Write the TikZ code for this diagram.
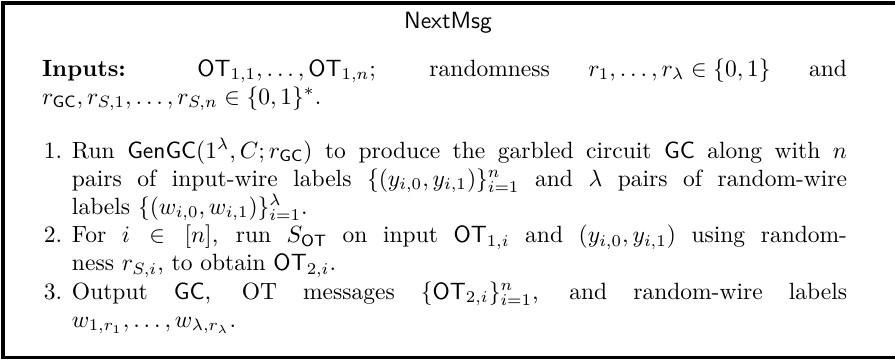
\documentclass[tikz,border=0pt]{standalone}
\usepackage{amsmath,amssymb}
\usetikzlibrary{positioning}
\tikzset{
	x=0.4255pt, y=-0.4255pt,
	frame/.style = {line width=1.3pt},
	title/.style = {anchor=base, inner sep=0pt, font=\sffamily},
	para/.style = {anchor=base west, inner sep=0pt, outer sep=0pt, align=justify,
		font=\fontsize{10pt}{12pt}\selectfont},
	inputs/.style = {para, text width=342.5pt},
	stepbox/.style = {para, text width=329.8pt},
	num/.style = {anchor=base east, inner sep=0pt, font=\fontsize{10pt}{12pt}\selectfont}
}
\newcommand{\OT}{\mathsf{OT}}
\newcommand{\GC}{\mathsf{GC}}

\begin{document}
\begin{tikzpicture}
	\useasboundingbox (0,0) rectangle (895,362);
	\clip (0,0) rectangle (895,362);

	% frame, its right side runs off the page
	\draw[frame] (3,3) rectangle (900,357.5);

	\node (title) [title] at (448,28) {NextMsg};

	\node (inputs) [inputs] at (42,76) {\textbf{Inputs:} $\OT_{1,1},\ldots,\OT_{1,n}$; randomness
		${r_1,\ldots,r_\lambda\in\{0,1\}}$ and\linebreak
		$r_{\GC},r_{S,1},\ldots,r_{S,n}\in\{0,1\}^*$.};

	% the three steps, 28.2 units per line
	\node (step1) [stepbox] at (72,158) {Run $\mathsf{GenGC}(1^\lambda, C; r_{\GC})$ to produce the garbled circuit $\GC$ along with $n$\linebreak
		pairs of input-wire labels $\{(y_{i,0},y_{i,1})\}_{i=1}^{n}$ and $\lambda$ pairs of random-wire\linebreak
		labels $\{(w_{i,0},w_{i,1})\}_{i=1}^{\lambda}$.};
	\node (step2) [stepbox] at (72,242.6) {For $i\in[n]$, run $S_{\OT}$ on input $\OT_{1,i}$ and $(y_{i,0},y_{i,1})$ using random-\linebreak
		ness $r_{S,i}$, to obtain $\OT_{2,i}$.};
	\node (step3) [stepbox] at (72,299) {Output $\GC$, OT messages $\{\OT_{2,i}\}_{i=1}^{n}$, and random-wire labels\linebreak
		$w_{1,r_1},\ldots,w_{\lambda,r_\lambda}$.};

	\node (num1) [num, left = 4pt of step1.base west, anchor=base east] {1.};
	\node (num2) [num, left = 4pt of step2.base west, anchor=base east] {2.};
	\node (num3) [num, left = 4pt of step3.base west, anchor=base east] {3.};
\end{tikzpicture}
\end{document}
